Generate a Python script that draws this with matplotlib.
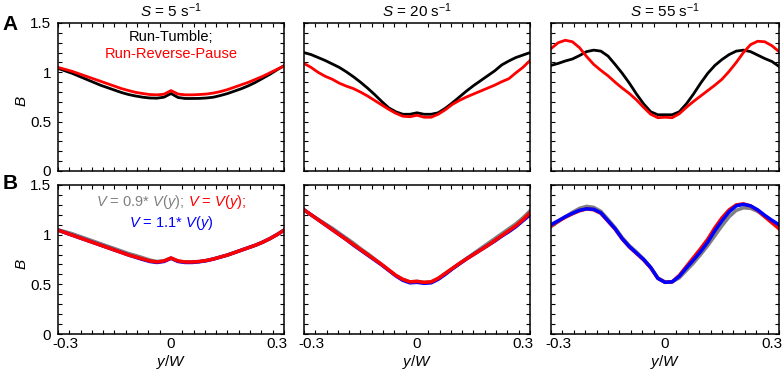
import matplotlib
matplotlib.use("Agg")
import matplotlib.pyplot as plt
import numpy as np

plt.rcParams["font.family"] = ["Liberation Sans", "DejaVu Sans"]
plt.rcParams["mathtext.fontset"] = "custom"
plt.rcParams["mathtext.rm"] = "Liberation Sans"
plt.rcParams["mathtext.it"] = "Liberation Sans:italic"
plt.rcParams["mathtext.bf"] = "Liberation Sans:bold"

# lateral position y/W, shared by every curve
y_pos = np.round(np.arange(-0.32, 0.3201, 0.02), 2)

# Row A: swimming strategies
a5_tumble = [1.04, 1.015, 0.99, 0.96, 0.93, 0.90, 0.87, 0.845, 0.82, 0.795, 0.775, 0.76, 0.748, 0.74, 0.738,
             0.748, 0.785, 0.745, 0.735, 0.735, 0.736, 0.74, 0.748, 0.765, 0.785, 0.81, 0.835, 0.865, 0.90,
             0.94, 0.98, 1.025, 1.067]
a5_reverse = [1.05, 1.03, 1.01, 0.985, 0.96, 0.935, 0.91, 0.885, 0.86, 0.835, 0.815, 0.797, 0.785, 0.775, 0.772,
              0.778, 0.815, 0.78, 0.772, 0.772, 0.775, 0.78, 0.79, 0.805, 0.825, 0.85, 0.875, 0.90, 0.93,
              0.96, 0.995, 1.03, 1.065]
a20_tumble = [1.20, 1.18, 1.15, 1.12, 1.085, 1.05, 1.005, 0.955, 0.90, 0.84, 0.775, 0.705, 0.64, 0.60, 0.575,
              0.575, 0.59, 0.575, 0.575, 0.59, 0.635, 0.69, 0.75, 0.81, 0.865, 0.915, 0.965, 1.015, 1.075,
              1.115, 1.15, 1.175, 1.20]
a20_reverse = [1.09, 1.05, 1.00, 0.96, 0.93, 0.89, 0.86, 0.835, 0.80, 0.76, 0.715, 0.67, 0.625, 0.585, 0.555,
               0.55, 0.565, 0.545, 0.545, 0.575, 0.62, 0.675, 0.715, 0.75, 0.78, 0.81, 0.84, 0.87, 0.905,
               0.935, 0.995, 1.05, 1.12]
a55_tumble = [1.07, 1.09, 1.115, 1.135, 1.17, 1.21, 1.225, 1.215, 1.165, 1.08, 0.99, 0.89, 0.78, 0.68, 0.60,
              0.57, 0.57, 0.57, 0.60, 0.68, 0.78, 0.89, 0.99, 1.07, 1.13, 1.18, 1.215, 1.225, 1.21,
              1.175, 1.14, 1.11, 1.06]
a55_reverse = [1.24, 1.30, 1.325, 1.31, 1.25, 1.16, 1.08, 1.02, 0.965, 0.90, 0.84, 0.785, 0.72, 0.645, 0.575,
               0.54, 0.545, 0.54, 0.58, 0.645, 0.705, 0.76, 0.815, 0.87, 0.93, 1.01, 1.10, 1.20, 1.28,
               1.315, 1.31, 1.27, 1.21]

# Row B: swimming speed variations
b5_slow = [1.05, 1.03, 1.01, 0.985, 0.96, 0.935, 0.91, 0.885, 0.86, 0.835, 0.81, 0.79, 0.768, 0.745, 0.73,
           0.737, 0.765, 0.735, 0.725, 0.725, 0.73, 0.74, 0.755, 0.775, 0.795, 0.82, 0.845, 0.87, 0.895,
           0.925, 0.96, 1.0, 1.045]
b5_base = [1.045, 1.02, 0.995, 0.97, 0.945, 0.92, 0.895, 0.87, 0.845, 0.82, 0.795, 0.775, 0.755, 0.735, 0.725,
           0.735, 0.765, 0.735, 0.725, 0.725, 0.73, 0.74, 0.755, 0.775, 0.795, 0.82, 0.845, 0.87, 0.895,
           0.925, 0.96, 1.0, 1.045]
b5_fast = [1.045, 1.02, 0.995, 0.97, 0.945, 0.92, 0.895, 0.87, 0.845, 0.82, 0.795, 0.772, 0.75, 0.73, 0.72,
           0.73, 0.762, 0.73, 0.72, 0.72, 0.727, 0.738, 0.755, 0.775, 0.795, 0.82, 0.845, 0.87, 0.895,
           0.925, 0.96, 1.0, 1.045]
b20_slow = [1.25, 1.20, 1.155, 1.11, 1.065, 1.015, 0.965, 0.915, 0.86, 0.81, 0.755, 0.70, 0.645, 0.59, 0.55,
            0.525, 0.53, 0.52, 0.525, 0.56, 0.61, 0.66, 0.71, 0.76, 0.81, 0.86, 0.91, 0.96, 1.01,
            1.06, 1.11, 1.17, 1.24]
b20_base = [1.25, 1.20, 1.15, 1.10, 1.05, 1.00, 0.95, 0.90, 0.85, 0.80, 0.75, 0.70, 0.645, 0.59, 0.55,
            0.525, 0.53, 0.52, 0.525, 0.56, 0.61, 0.66, 0.71, 0.755, 0.80, 0.845, 0.89, 0.94, 0.99,
            1.04, 1.09, 1.15, 1.22]
b20_fast = [1.25, 1.20, 1.15, 1.10, 1.05, 1.00, 0.95, 0.895, 0.845, 0.795, 0.745, 0.695, 0.64, 0.585, 0.54,
            0.515, 0.52, 0.51, 0.515, 0.55, 0.60, 0.655, 0.705, 0.755, 0.80, 0.845, 0.89, 0.935, 0.985,
            1.03, 1.08, 1.14, 1.20]
b55_slow = [1.08, 1.13, 1.18, 1.225, 1.265, 1.285, 1.275, 1.235, 1.155, 1.07, 0.97, 0.89, 0.825, 0.755, 0.67,
            0.565, 0.525, 0.525, 0.565, 0.64, 0.715, 0.80, 0.89, 0.99, 1.09, 1.18, 1.245, 1.27, 1.265,
            1.235, 1.185, 1.135, 1.08]
b55_base = [1.09, 1.135, 1.175, 1.21, 1.24, 1.26, 1.25, 1.215, 1.135, 1.055, 0.955, 0.875, 0.81, 0.745, 0.665,
            0.56, 0.52, 0.525, 0.59, 0.68, 0.77, 0.86, 0.955, 1.07, 1.17, 1.25, 1.30, 1.31, 1.29,
            1.245, 1.18, 1.12, 1.06]
b55_fast = [1.10, 1.14, 1.18, 1.215, 1.245, 1.26, 1.255, 1.22, 1.14, 1.06, 0.96, 0.88, 0.815, 0.75, 0.67,
            0.56, 0.52, 0.525, 0.58, 0.665, 0.745, 0.83, 0.925, 1.04, 1.14, 1.23, 1.29, 1.305, 1.29,
            1.25, 1.195, 1.145, 1.10]

shear_labels = ["5", "20", "55"]
row_a = [(a5_tumble, a5_reverse), (a20_tumble, a20_reverse), (a55_tumble, a55_reverse)]
row_b = [(b5_slow, b5_base, b5_fast), (b20_slow, b20_base, b20_fast), (b55_slow, b55_base, b55_fast)]

RED = "#FF0000"
BLUE = "#0000FF"
GRAY = "#808080"

W, H = 782, 376
fig = plt.figure(figsize=(W / 100, H / 100), dpi=100)

col_px = [(58, 226), (304, 226), (551, 228)]
row_px = [(23, 171), (185, 334)]


def make_axes(col, row):
    left, width = col_px[col]
    top, bottom = row_px[row]
    return fig.add_axes([left / W, (H - bottom) / H, width / W, (bottom - top) / H])


def style_axes(ax, col, row):
    ax.set_xlim(-0.32, 0.32)
    ax.set_ylim(0, 1.5)
    ax.set_xticks([-0.3, 0, 0.3])
    ax.set_xticks(np.arange(-0.32, 0.3201, 0.032), minor=True)
    ax.set_yticks([0, 0.5, 1, 1.5])
    ax.set_yticks(np.arange(0, 1.501, 0.1), minor=True)
    ax.set_yticklabels(["0", "0.5", "1", "1.5"])
    ax.tick_params(axis="both", which="both", direction="in", top=True, right=True,
                   labelsize=11, width=0.8)
    ax.tick_params(axis="x", which="major", length=0, pad=2)
    ax.tick_params(axis="x", which="minor", length=3)
    ax.tick_params(axis="y", which="both", length=3, pad=5)
    ax.set_xticklabels(["-0.3", "0", "0.3"])
    for sp in ax.spines.values():
        sp.set_linewidth(1.1)
    if row == 0:
        ax.tick_params(axis="x", labelbottom=False)
    else:
        ax.set_xlabel("$y/W$", fontsize=11)
        ax.xaxis.set_label_coords(0.5, -0.125)
        ax.xaxis.label.set_va("top")
    if col == 0:
        ax.set_ylabel("$B$", fontsize=11)
        ax.yaxis.set_label_coords(-0.128, 0.47)
    else:
        ax.tick_params(axis="y", labelleft=False)


for c in range(3):
    ax = make_axes(c, 0)
    tumble, reverse = row_a[c]
    ax.plot(y_pos, tumble, color="black", lw=2.0)
    ax.plot(y_pos, reverse, color=RED, lw=2.0)
    ax.set_title(r"$S$ = " + shear_labels[c] + r" s$^{-1}$", fontsize=11, pad=4)
    style_axes(ax, c, 0)
    if c == 0:
        ax.text(0.5, 0.905, "Run-Tumble;", transform=ax.transAxes, ha="center", va="center",
                fontsize=10.5, color="black")
        ax.text(0.5, 0.79, "Run-Reverse-Pause", transform=ax.transAxes, ha="center", va="center",
                fontsize=10.5, color=RED)

for c in range(3):
    ax = make_axes(c, 1)
    slow, base, fast = row_b[c]
    ax.plot(y_pos, slow, color=GRAY, lw=2.5)
    if c == 2:
        ax.plot(y_pos, base, color=RED, lw=2.5)
        ax.plot(y_pos, fast, color=BLUE, lw=2.5)
    else:
        ax.plot(y_pos, fast, color=BLUE, lw=2.5)
        ax.plot(y_pos, base, color=RED, lw=2.5)
    style_axes(ax, c, 1)
    if c == 0:
        t1 = ax.text(0.175, 0.888, "$V$ = 0.9* $V$($y$);", transform=ax.transAxes, ha="left",
                     va="center", fontsize=10.5, color=GRAY)
        t2 = ax.annotate(" $V$ = $V$($y$);", xy=(1, 0), xycoords=t1, ha="left", va="bottom",
                         fontsize=10.5, color=RED)
        ax.text(0.5, 0.747, "$V$ = 1.1* $V$($y$)", transform=ax.transAxes, ha="center",
                va="center", fontsize=10.5, color=BLUE)
        # centre the two-colour first line over the axes
        fig.canvas.draw()
        r = fig.canvas.get_renderer()
        e1 = t1.get_window_extent(r)
        e2 = t2.get_window_extent(r)
        bb = ax.get_window_extent(r)
        total = e2.x1 - e1.x0
        t1.set_x((bb.width - total) / 2 / bb.width)

fig.text(10 / W, 1 - 24 / H, "A", fontsize=15, fontweight="bold", ha="center", va="center")
fig.text(10 / W, 1 - 184 / H, "B", fontsize=15, fontweight="bold", ha="center", va="center")

fig.savefig("out.png", dpi=100)
